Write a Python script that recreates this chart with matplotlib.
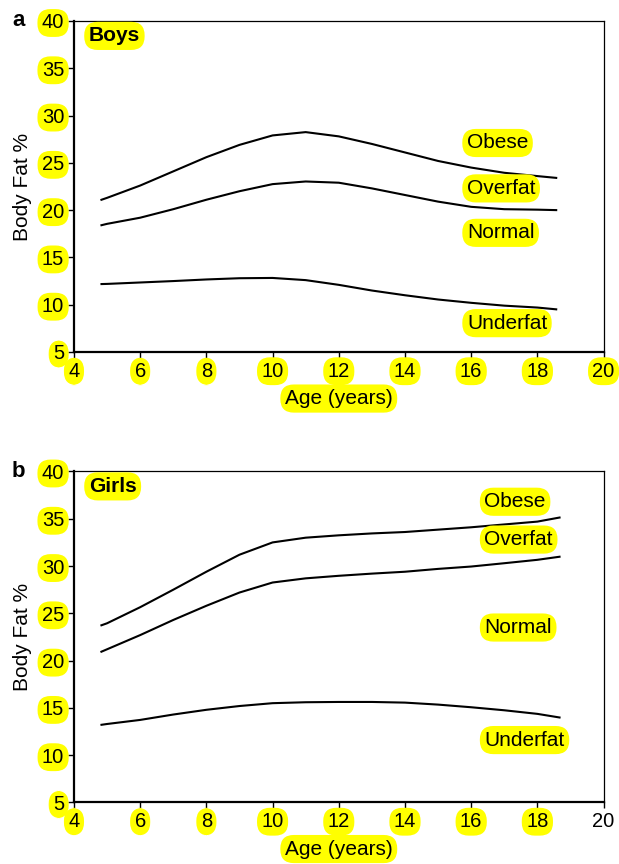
import matplotlib
matplotlib.use("Agg")
import matplotlib.pyplot as plt

plt.rcParams['font.family'] = ['Liberation Sans', 'DejaVu Sans']

boys_age = [4.8, 5, 6, 7, 8, 9, 10, 11, 12, 13, 14, 15, 16, 17, 18, 18.6]
boys_obese = [21.06, 21.3, 22.6, 24.1, 25.6, 26.9, 27.9, 28.25, 27.8, 27.0, 26.1, 25.2, 24.5, 23.95, 23.6, 23.4]
boys_overfat = [18.38, 18.55, 19.2, 20.1, 21.1, 22.0, 22.75, 23.03, 22.9, 22.3, 21.6, 20.9, 20.35, 20.1, 20.05, 20.0]
boys_under = [12.18, 12.2, 12.35, 12.5, 12.67, 12.8, 12.83, 12.6, 12.1, 11.5, 11.0, 10.55, 10.2, 9.9, 9.7, 9.5]

girls_age = [4.8, 5, 6, 7, 8, 9, 10, 11, 12, 13, 14, 15, 16, 17, 18, 18.7]
girls_obese = [23.7, 23.95, 25.65, 27.5, 29.4, 31.2, 32.5, 33.0, 33.25, 33.45, 33.6, 33.85, 34.1, 34.4, 34.7, 35.15]
girls_overfat = [20.9, 21.2, 22.7, 24.3, 25.8, 27.2, 28.26, 28.7, 28.97, 29.2, 29.4, 29.7, 29.95, 30.3, 30.66, 31.0]
girls_under = [13.2, 13.3, 13.73, 14.3, 14.8, 15.2, 15.5, 15.6, 15.63, 15.63, 15.56, 15.35, 15.07, 14.75, 14.37, 13.97]

category_labels = ["Obese", "Overfat", "Normal", "Underfat"]
boys_label_y = [27.1, 22.3, 17.6, 8.05]
girls_label_y = [36.8, 32.8, 23.5, 11.6]

x_ticks = [4, 6, 8, 10, 12, 14, 16, 18, 20]
y_ticks = [5, 10, 15, 20, 25, 30, 35, 40]

YEL = dict(boxstyle='round,pad=0.22,rounding_size=0.65', fc='#ffff00', ec='none')
FS = 15

fig = plt.figure(figsize=(6.19, 8.64), dpi=100)
axA = fig.add_axes([0.1195, 0.5926, 0.8556, 0.3831])
axB = fig.add_axes([0.1195, 0.0712, 0.8556, 0.3831])

panels = [
    (axA, 'a', 'Boys', boys_age, [boys_obese, boys_overfat, boys_under], boys_label_y, 15.87, True),
    (axB, 'b', 'Girls', girls_age, [girls_obese, girls_overfat, girls_under], girls_label_y, 16.4, False),
]

for ax, letter, title, ages, series, ly, lx, hl20 in panels:
    for s in series:
        ax.plot(ages, s, color='black', lw=1.5, solid_capstyle='butt', solid_joinstyle='round')
    ax.set_xlim(4, 20)
    ax.set_ylim(5, 40)
    ax.set_xticks(x_ticks)
    ax.set_yticks(y_ticks)
    ax.tick_params(direction='out', length=4, width=1, labelsize=14.5, pad=3)
    for sp in ['left', 'bottom']:
        ax.spines[sp].set_linewidth(1.6)
    for sp in ['top', 'right']:
        ax.spines[sp].set_linewidth(0.9)
    fig.canvas.draw()
    for lbl in ax.get_yticklabels():
        lbl.set_bbox(YEL)
    for lbl in ax.get_xticklabels():
        if lbl.get_text() == '20' and not hl20:
            continue
        lbl.set_bbox(YEL)
    ax.set_xlabel('Age (years)', fontsize=FS, labelpad=6, bbox=YEL)
    ax.set_ylabel('Body Fat %', fontsize=FS, labelpad=7)
    ax.text(0.028, 0.955, title, transform=ax.transAxes, fontsize=FS, fontweight='bold',
            ha='left', va='center', bbox=YEL)
    ax.text(-0.105, 1.0, letter, transform=ax.transAxes, fontsize=16, fontweight='bold',
            ha='center', va='center')
    for name, yv in zip(category_labels, ly):
        ax.text(lx, yv, name, fontsize=FS, ha='left', va='center', bbox=YEL)

fig.savefig('out.png', dpi=100)
